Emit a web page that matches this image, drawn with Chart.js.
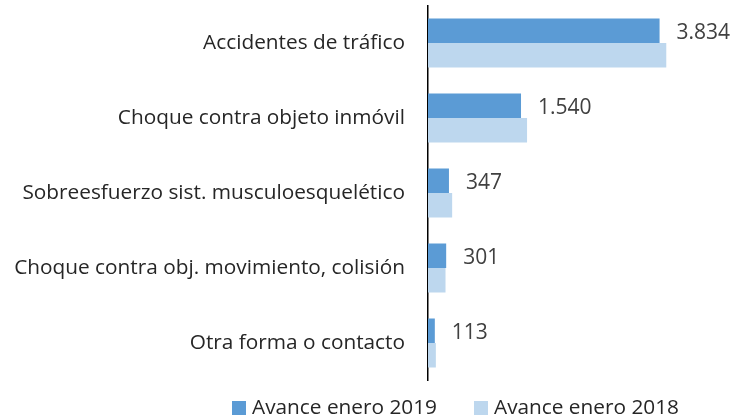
<!DOCTYPE html>
<html>
<head>
<meta charset="utf-8">
<script src="https://cdn.jsdelivr.net/npm/chart.js@4"></script>
<style>
  html, body { margin: 0; padding: 0; background: #fff; }
  #wrap { width: 736px; height: 417px; }
</style>
</head>
<body>
<div id="wrap"><canvas id="chart" width="736" height="417"></canvas></div>
<script>
const categories = [
  'Accidentes de tráfico',
  'Choque contra objeto inmóvil',
  'Sobreesfuerzo sist. musculoesquelético',
  'Choque contra obj. movimiento, colisión',
  'Otra forma o contacto'
];
const values2019 = [3834, 1540, 347, 301, 113];
const values2018 = [3945, 1640, 400, 290, 130];
const seriesNames = ['Avance enero 2019', 'Avance enero 2018'];
const seriesColors = ['#5B9BD5', '#BDD7EE'];

const FONT = '"Open Sans", sans-serif';

// etiquetas de valor solo para la serie 2019
const valueLabels = {
  id: 'valueLabels',
  afterDatasetsDraw(chart) {
    const ctx = chart.ctx;
    const meta = chart.getDatasetMeta(0);
    ctx.save();
    ctx.font = '21px ' + FONT;
    ctx.fillStyle = '#404040';
    ctx.textAlign = 'left';
    ctx.textBaseline = 'middle';
    meta.data.forEach((bar, i) => {
      ctx.fillText(values2019[i].toLocaleString('de-DE'), bar.x + 17, bar.y + 2.5);
    });
    ctx.restore();
  }
};

// leyenda abajo, dibujada a mano
const bottomLegend = {
  id: 'bottomLegend',
  afterDraw(chart) {
    const ctx = chart.ctx;
    ctx.save();
    ctx.font = '20.8px ' + FONT;
    ctx.textBaseline = 'middle';
    ctx.textAlign = 'left';
    let x = 232;
    const y = 408;
    chart.data.datasets.forEach((ds, i) => {
      ctx.fillStyle = ds.backgroundColor;
      ctx.fillRect(x, y - 7, 14, 14);
      ctx.fillStyle = '#262626';
      ctx.fillText(ds.label, x + 20, y);
      x += 20 + ctx.measureText(ds.label).width + 37;
    });
    ctx.restore();
  }
};

new Chart(document.getElementById('chart'), {
  type: 'bar',
  data: {
    labels: categories,
    datasets: [
      { label: seriesNames[0], data: values2019, backgroundColor: seriesColors[0] },
      { label: seriesNames[1], data: values2018, backgroundColor: seriesColors[1] }
    ]
  },
  options: {
    indexAxis: 'y',
    responsive: false,
    animation: false,
    layout: { padding: { top: 5.5, right: 6, bottom: 36.5, left: 0 } },
    datasets: { bar: { barPercentage: 1, categoryPercentage: 0.655 } },
    scales: {
      x: { display: false, min: 0, max: 5000 },
      y: {
        grid: { display: false },
        border: { display: true, color: '#000', width: 1.5 },
        ticks: { color: '#262626', font: { size: 20.8, family: FONT }, padding: 15 },
        afterFit(scale) {
          scale.width = 428;
          scale.paddingTop = 0;
          scale.paddingBottom = 0;
        }
      }
    },
    plugins: {
      legend: { display: false },
      tooltip: { enabled: false }
    }
  },
  plugins: [valueLabels, bottomLegend]
});
</script>
</body>
</html>
